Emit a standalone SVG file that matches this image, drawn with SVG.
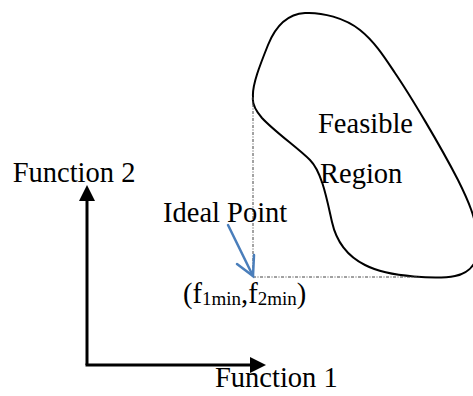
<svg xmlns="http://www.w3.org/2000/svg" width="473" height="396" viewBox="0 0 473 396">
<style>
  text { font-family: "Liberation Serif", "Times New Roman", serif; fill: #000; }
  .lbl { font-size: 28.5px; }
  .sub { font-size: 19px; }
  .axis { stroke: #000; stroke-width: 3; fill: none; }
  .guide { stroke: #444; stroke-width: 1; stroke-dasharray: 3,1.5,1,1.5; fill: none; }
  .blob { stroke: #000; stroke-width: 2; fill: none; }
  .ptr { stroke: #4a7ebb; stroke-width: 2.5; fill: none; stroke-linecap: round; }
</style>
<g id="feasible-region">
  <path class="blob" d="M 253,97 C 252,85 260,65 268,45 C 276,25 288,14 305,13 C 322,12 345,18 360,30 C 375,42 385,58 395,73 C 410,95 440,145 458,180 C 468,200 476,218 478,240 C 480,262 470,273 455,276 C 440,279 390,278 365,265 C 345,255 336,240 332,222 C 327,200 322,172 310,160 C 298,148 275,132 262,118 C 255,110 252,103 253,97 Z"/>
  <text class="lbl" x="318" y="133">Feasible</text>
  <text class="lbl" x="320" y="183">Region</text>
</g>
<g id="connectors">
  <line class="guide" x1="253" y1="97" x2="253" y2="277"/>
  <line class="guide" x1="253" y1="277" x2="420" y2="277"/>
  <line class="axis" x1="87" y1="198" x2="87" y2="365"/>
  <line class="axis" x1="85.5" y1="365" x2="252" y2="365"/>
  <polygon points="87,185 79,201 95,201" fill="#000"/>
  <polygon points="266,365 250,357 250,373" fill="#000"/>
  <line class="ptr" x1="228" y1="225" x2="253" y2="276"/>
  <polyline class="ptr" points="237,264 253,276 254,255"/>
</g>
<g id="axis-labels">
  <text class="lbl" x="12.7" y="182">Function 2</text>
  <text class="lbl" x="215" y="387">Function 1</text>
</g>
<g id="ideal-point">
  <text class="lbl" x="163" y="222">Ideal Point</text>
  <text class="lbl" x="183" y="303">(f<tspan class="sub" dy="2">1min</tspan><tspan dy="-2">,f</tspan><tspan class="sub" dy="2">2min</tspan><tspan dy="-2">)</tspan></text>
</g>
</svg>
